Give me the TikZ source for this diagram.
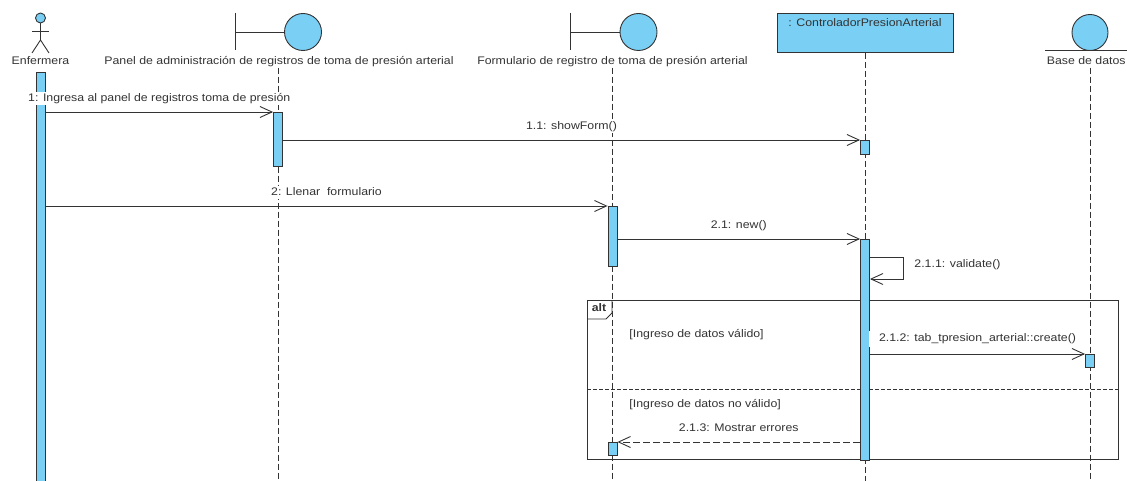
\documentclass[tikz,border=0pt]{standalone}
\usepackage{fontspec}
\setmainfont{Liberation Sans}[FakeStretch=1.12]
\usetikzlibrary{arrows.meta}
\definecolor{vpblue}{HTML}{7ACFF5}
\definecolor{ink}{HTML}{333333}

\begin{document}
\begin{tikzpicture}[x=1pt, y=-1pt, line width=0.9pt, color=ink,
	every node/.style={font=\fontsize{11}{13}\selectfont},
	txt/.style={inner sep=0pt, text height=8pt, text depth=2.5pt},
	icon/.style={draw, circle, fill=vpblue, inner sep=0pt},
	lifeline/.style={dash pattern=on 6pt off 3pt},
	bar/.style={draw, fill=vpblue, minimum width=9pt, inner sep=0pt, anchor=north},
	msg/.style={-{Straight Barb[length=12pt,width=11pt]}},
	reply/.style={msg, dash pattern=on 7pt off 3pt},
	lbl/.style={txt, midway, above=7pt, fill=white, inner ysep=1pt, inner xsep=1pt}]
	\useasboundingbox (0,0) rectangle (1127,481);

	% actor
	\node[icon, minimum size=10pt] (head) at (40.5,18) {};
	\coordinate (hip) at (40.5,40);
	\draw (head) -- (hip);
	\draw (32,31) -- (49,31);
	\draw (32,53) -- (hip) -- (49,53);
	\node[txt] (lblE) at (40.5,62) {Enfermera};

	% boundaries
	\node[icon, minimum size=37pt] (panIcon) at (303,32) {};
	\draw (235,13) -- (235,50);
	\draw (235,32) -- (panIcon);
	\node[txt] (lblP) at (279,62) {Panel de administración de registros de toma de presión arterial};
	\node[icon, minimum size=37pt] (formIcon) at (638.5,32) {};
	\draw (570,13) -- (570,50);
	\draw (570,32) -- (formIcon);
	\node[txt] (lblF) at (612.5,62) {Formulario de registro de toma de presión arterial};

	% control object
	\node[draw, fill=vpblue, minimum width=176pt, minimum height=39pt, anchor=north] (ctrl) at (865,13) {};
	\node[txt] (lblC) at (865,24) {: ControladorPresionArterial};

	% entity
	\node[icon, minimum size=36pt] (dbIcon) at (1090,32.5) {};
	\draw ([xshift=-45pt]dbIcon.south) -- ([xshift=45pt]dbIcon.south);
	\node[txt, anchor=east] (lblB) at (1126,62) {Base de datos};

	% lifelines
	\coordinate (endP) at (278,481);
	\coordinate (endF) at (612.5,481);
	\coordinate (endC) at (865,481);
	\coordinate (endB) at (1090,481);
	\draw[lifeline] (lblP.south -| endP) -- (endP);
	\draw[lifeline] (lblF) -- (endF);
	\draw[lifeline] (ctrl) -- (endC);
	\draw[lifeline] (lblB.south -| endB) -- (endB);

	% alt frame
	\draw (587,300) rectangle (1118,459);
	\draw (587,319) -- (606,319) -- (612,313) -- (612,300);
	\node[txt] (altTag) at (599,309) {\textbf{alt}};
	\draw[dash pattern=on 4pt off 2pt] (587,389) -- (1118,389);
	\node[txt, anchor=west] (guard1) at (629,335) {[Ingreso de datos válido]};
	\node[txt, anchor=west] (guard2) at (629,405) {[Ingreso de datos no válido]};

	% activations
	\node[bar, minimum height=413pt] (actE) at (40.5,72) {};
	\node[bar, minimum height=54pt] (actP) at (278,112) {};
	\node[bar, minimum height=14pt] (actC1) at (865,140) {};
	\node[bar, minimum height=60pt] (actF1) at (612.5,206) {};
	\node[bar, minimum height=221pt] (actC2) at (865,239) {};
	\node[bar, minimum height=13pt] (actB) at (1090,354) {};
	\node[bar, minimum height=13pt] (actF2) at (612.5,442) {};

	% messages
	\draw[msg] (actE.east |- actP.north) -- (actP.north west) node[lbl] {1: Ingresa al panel de registros toma de presión};
	\draw[msg] (actP.east |- actC1.north) -- (actC1.north west) node[lbl] {1.1: showForm()};
	\draw[msg] (actE.east |- actF1.north) -- (actF1.north west) node[lbl] {2: Llenar\ \ formulario};
	\draw[msg] (actF1.east |- actC2.north) -- (actC2.north west) node[lbl] {2.1: new()};
	\coordinate (selfA) at (903,257);
	\coordinate (selfB) at (903,279);
	\draw[msg] (actC2.east |- selfA) -- (selfA) -- (selfB) -- (actC2.east |- selfB);
	\node[txt, anchor=west] (valid) at (914,265) {2.1.1: validate()};
	\draw[msg] (actC2.east |- actB.north) -- (actB.north west) node[txt, midway, above=6.5pt, fill=white, inner xsep=10pt, inner ysep=3pt] {2.1.2: tab\_tpresion\_arterial::create()};
	\draw[reply] (actC2.west |- actF2.north) -- (actF2.north east) node[lbl] {2.1.3: Mostrar errores};
\end{tikzpicture}
\end{document}
